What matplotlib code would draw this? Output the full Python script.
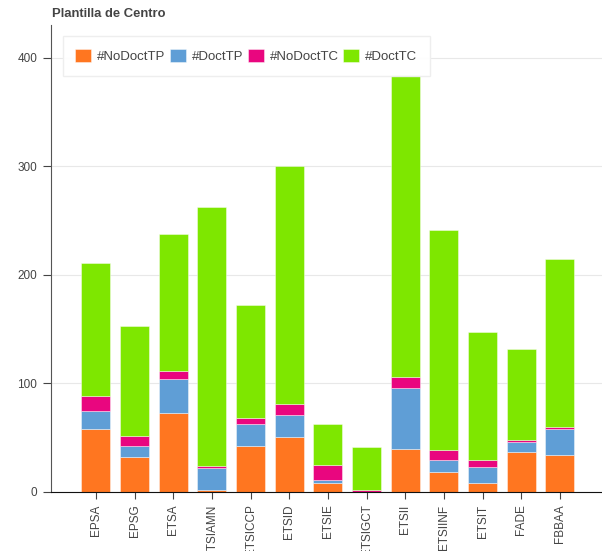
import numpy as np
import matplotlib
matplotlib.use('Agg')
import matplotlib.pyplot as plt

plt.rcParams['font.family'] = ['Liberation Sans', 'DejaVu Sans']

centros = ['EPSA', 'EPSG', 'ETSA', 'ETSIAMN', 'ETSICCP', 'ETSID', 'ETSIE',
           'ETSIGCT', 'ETSII', 'ETSIINF', 'ETSIT', 'FADE', 'FBBAA']
no_doct_tp = [58, 32, 73, 2, 42, 51, 8, 0, 40, 18, 8, 37, 34]
doct_tp = [17, 10, 31, 20, 21, 20, 3, 0, 56, 11, 15, 9, 24]
no_doct_tc = [13, 10, 7, 2, 5, 10, 14, 2, 10, 10, 6, 2, 2]
doct_tc = [123, 101, 127, 238, 104, 219, 38, 39, 278, 202, 118, 84, 155]

series = [('#NoDoctTP', no_doct_tp, '#ff7620'),
          ('#DoctTP', doct_tp, '#5f9ed6'),
          ('#NoDoctTC', no_doct_tc, '#e9067f'),
          ('#DoctTC', doct_tc, '#7ee700')]

fig = plt.figure(figsize=(6.02, 5.51), dpi=100)
# axes box in figure fractions (left spine at ~51px)
ax = fig.add_axes([0.0847, 0.1071, 0.9153, 0.8475])

x = np.arange(len(centros))
bottom = np.zeros(len(centros))
for name, vals, col in series:
    ax.bar(x, vals, 0.75, bottom=bottom, color=col, label=name,
           edgecolor=(1, 1, 1, 0.5), linewidth=0.6, zorder=2)
    bottom += np.array(vals)

ax.set_xlim(-1.16, 13.09)
ax.set_ylim(0, 430)
ax.set_yticks([0, 100, 200, 300, 400])
ax.set_xticks(x)
ax.set_xticklabels(centros, rotation=90)
ax.tick_params(axis='both', labelsize=8, colors='#444444', labelcolor='#444444')
ax.tick_params(axis='x', length=5, pad=4, labelsize=8.5)
ax.tick_params(axis='y', length=6, pad=4, labelsize=8.5)
ax.grid(axis='y', color='#e8e8e8', linewidth=0.8, zorder=0)
ax.set_axisbelow(True)
for s in ['top', 'right']:
    ax.spines[s].set_visible(False)
ax.spines['left'].set_color('#555555')
ax.spines['bottom'].set_color('#111111')

leg = ax.legend(loc='upper left', bbox_to_anchor=(0.021, 0.976), ncol=4,
                frameon=True, fontsize=9.5, handlelength=1.2, handleheight=1.2,
                columnspacing=0.35, handletextpad=0.45, borderpad=0.95,
                fancybox=False, borderaxespad=0)
leg.get_frame().set_edgecolor('#eeeeee')
leg.get_frame().set_alpha(0.95)
for t in leg.get_texts():
    t.set_color('#444444')

fig.text(0.086, 0.975, 'Plantilla de Centro', fontsize=9.4, fontweight='bold',
         color='#444444', ha='left', va='center')

fig.savefig('out.png', dpi=100)
